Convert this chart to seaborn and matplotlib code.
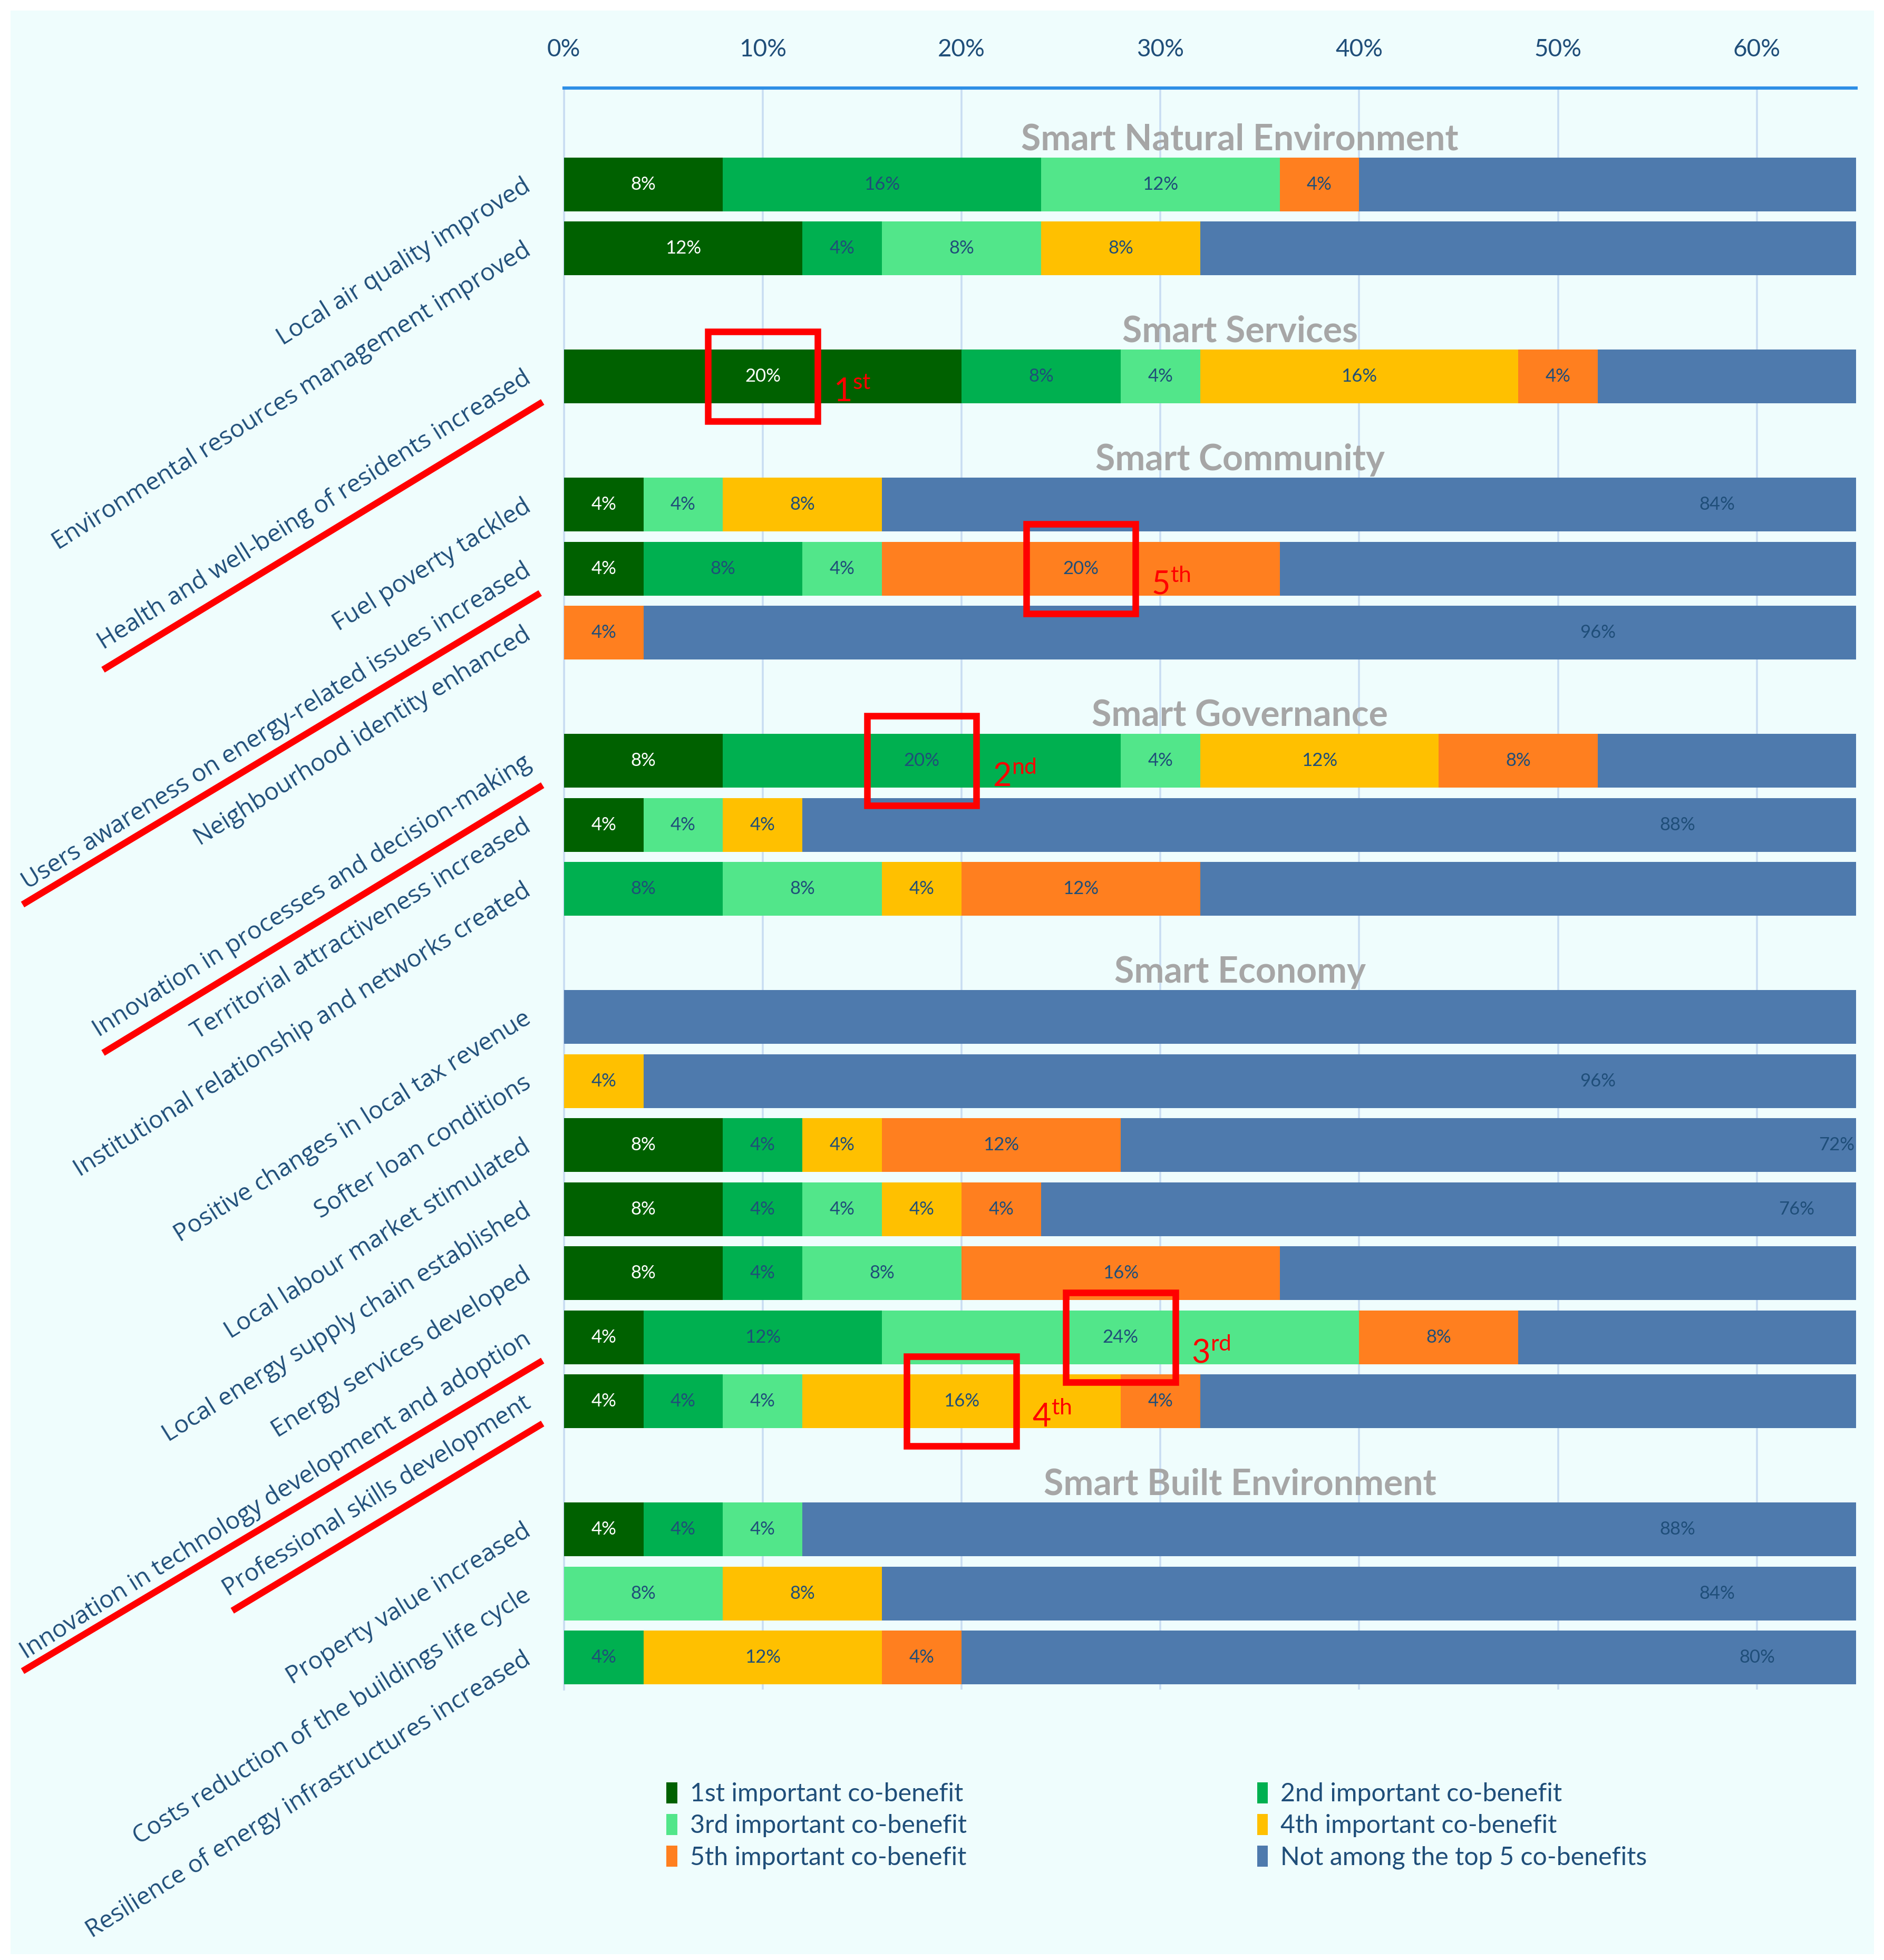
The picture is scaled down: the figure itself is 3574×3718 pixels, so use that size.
import numpy as np
import pandas as pd
import matplotlib
matplotlib.use('Agg')
import matplotlib.pyplot as plt
from matplotlib.patches import Rectangle
from matplotlib.lines import Line2D
import seaborn as sns

# rows from top to bottom; group titles sit in empty rows
groups = ['Smart Natural Environment', 'Smart Services', 'Smart Community',
          'Smart Governance', 'Smart Economy', 'Smart Built Environment']
group_items = [
    ['Local air quality improved',
     'Environmental resources management improved'],
    ['Health and well-being of residents increased'],
    ['Fuel poverty tackled',
     'Users awareness on energy-related issues increased',
     'Neighbourhood identity enhanced'],
    ['Innovation in processes and decision-making',
     'Territorial attractiveness increased',
     'Institutional relationship and networks created'],
    ['Positive changes in local tax revenue',
     'Softer loan conditions',
     'Local labour market stimulated',
     'Local energy supply chain established',
     'Energy services developed',
     'Innovation in technology development and adoption',
     'Professional skills development'],
    ['Property value increased',
     'Costs reduction of the buildings life cycle',
     'Resilience of energy infrastructures increased'],
]

# shares (%) per item, in the same order as the items above
first = [8, 12, 20, 4, 4, 0, 8, 4, 0, 0, 0, 8, 8, 8, 4, 4, 4, 0, 0]
second = [16, 4, 8, 0, 8, 0, 20, 0, 8, 0, 0, 4, 4, 4, 12, 4, 4, 0, 4]
third = [12, 8, 4, 4, 4, 0, 4, 4, 8, 0, 0, 0, 4, 8, 24, 4, 4, 8, 0]
fourth = [0, 8, 16, 8, 0, 0, 12, 4, 4, 0, 4, 4, 4, 0, 0, 16, 0, 8, 12]
fifth = [4, 0, 4, 0, 20, 4, 8, 0, 12, 0, 0, 12, 4, 16, 8, 4, 0, 0, 4]
not_top = [60, 68, 48, 84, 64, 96, 48, 88, 68, 100, 96, 72, 76, 64, 52, 68, 88, 84, 80]

series = ['1st important co-benefit', '2nd important co-benefit',
          '3rd important co-benefit', '4th important co-benefit',
          '5th important co-benefit', 'Not among the top 5 co-benefits']
colors = ['#006100', '#00B050', '#52E68A', '#FFC000', '#FF7F1F', '#4E7AAD']

# highlighted segments: (item, series index, ordinal)
highlights = [
    ('Health and well-being of residents increased', 0, '1', 'st'),
    ('Innovation in processes and decision-making', 1, '2', 'nd'),
    ('Innovation in technology development and adoption', 2, '3', 'rd'),
    ('Professional skills development', 3, '4', 'th'),
    ('Users awareness on energy-related issues increased', 4, '5', 'th'),
]

# build the row order with blank title rows
rows = []
for g, items in zip(groups, group_items):
    rows.append(g)
    rows.extend(items)
items_all = [it for items in group_items for it in items]

vals = np.array([first, second, third, fourth, fifth, not_top], dtype=float)
cum = np.cumsum(vals, axis=0)
df = pd.DataFrame({'row': items_all})
for k in range(6):
    df['cum%d' % k] = cum[k]

BG = '#EFFDFD'
TXT = '#1F4E79'
sns.set_style('white')
plt.rcParams['font.family'] = ['Lato', 'DejaVu Sans']
plt.rcParams['mathtext.fontset'] = 'custom'
plt.rcParams['mathtext.rm'] = 'Lato'

fig = plt.figure(figsize=(17.87, 18.59), dpi=200, facecolor='white')
fig.patches.append(Rectangle((0.0056, 0.003), 0.989, 0.9916, transform=fig.transFigure,
                             facecolor=BG, edgecolor='none', zorder=-10))
ax = fig.add_axes([0.2993, 0.138, 0.686, 0.817])
ax.set_facecolor(BG)

# stacked bars: draw cumulative totals from the longest down
for k in range(5, -1, -1):
    sns.barplot(data=df, x='cum%d' % k, y='row', order=rows, color=colors[k],
                width=0.84, orient='h', errorbar=None, saturation=1,
                linewidth=0, ax=ax, zorder=3)

ax.set_xlim(0, 65)
ax.set_ylim(len(rows) - 0.5, -0.5)
ax.xaxis.tick_top()
ax.set_xticks(np.arange(0, 61, 10))
ax.set_xticklabels(['%d%%' % t for t in range(0, 61, 10)], fontsize=16.5, color=TXT)
ax.tick_params(axis='x', length=0, pad=19)
ax.grid(axis='x', color='#C9DDF2', linewidth=1.3, zorder=0)
ax.set_axisbelow(True)
for s in ['right', 'bottom']:
    ax.spines[s].set_visible(False)
ax.spines['top'].set_color('#2E8FE6')
ax.spines['top'].set_linewidth(2.2)
ax.spines['left'].set_color('#C9DDF2')
ax.spines['left'].set_linewidth(1.3)
ax.set_xlabel('')
ax.set_ylabel('')

ylabels = ['' if r in groups else r for r in rows]
ax.set_yticks(range(len(rows)))
ax.set_yticklabels(ylabels, rotation=32, ha='right', va='center',
                   rotation_mode='anchor', fontsize=16.7, color=TXT,
                   family=['Open Sans', 'DejaVu Sans'])
ax.tick_params(axis='y', length=0, pad=24)

# group titles
for g in groups:
    ax.text(34, rows.index(g) + 0.3, g, ha='center', va='center', fontsize=24.5,
            fontweight='bold', color='#A6A6A6', zorder=5)

# segment labels
for i, it in enumerate(items_all):
    y = rows.index(it)
    left = 0
    for k in range(6):
        v = vals[k, i]
        c = left + v / 2
        if v > 0 and v < 100 and c < 65:
            ax.text(c, y, '%d%%' % v, ha='center', va='center', fontsize=12.5,
                    color='white' if k == 0 else TXT, zorder=6)
        left += v

# red boxes and ordinals
for it, k, num, suf in highlights:
    i = items_all.index(it)
    y = rows.index(it)
    start = cum[k, i] - vals[k, i]
    c = start + vals[k, i] / 2
    ax.add_patch(Rectangle((c - 2.75, y - 0.7), 5.5, 1.4, fill=False,
                           edgecolor='#FF0000', linewidth=4.5, zorder=8))
    ax.text(c + 3.55, y + 0.25, r'%s$^{\mathrm{%s}}$' % (num, suf), ha='left',
            va='center', fontsize=22, color='#FF0000', zorder=8)

# red underlines of the highlighted labels
red_lines = [
    ((0.0547, 0.288), (0.6583, 0.7949)),
    ((0.012, 0.2867), (0.5385, 0.6974)),
    ((0.0547, 0.288), (0.4628, 0.5994)),
    ((0.012, 0.288), (0.1474, 0.3058)),
    ((0.1233, 0.288), (0.1782, 0.2737)),
]
for xs, ys in red_lines:
    fig.lines.append(Line2D(xs, ys, transform=fig.transFigure, color='#FF0000',
                            linewidth=4.5, solid_capstyle='butt'))

# legend, filled row by row
handles = [Rectangle((0, 0), 1, 1, facecolor=c, edgecolor='none') for c in colors]
order = [0, 2, 4, 1, 3, 5]
leg = fig.legend([handles[j] for j in order], [series[j] for j in order],
                 loc='center', bbox_to_anchor=(0.614, 0.0685), ncol=2,
                 frameon=False, fontsize=17.4, handlelength=0.42, handleheight=0.9,
                 handletextpad=0.5, columnspacing=11.4, labelspacing=0.32)
for t in leg.get_texts():
    t.set_color(TXT)

fig.savefig('out.png', dpi=200, facecolor='white')
